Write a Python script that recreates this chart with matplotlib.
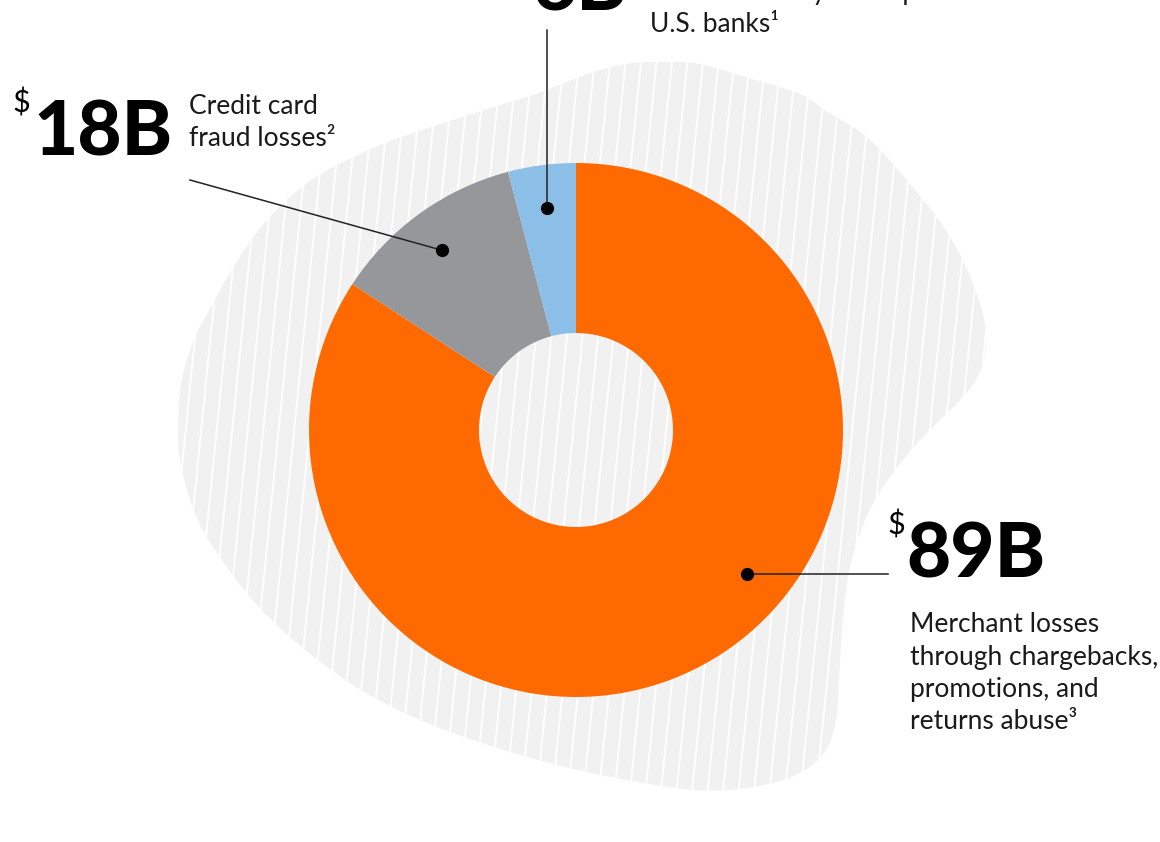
import numpy as np
import matplotlib
matplotlib.use("Agg")
import matplotlib.pyplot as plt
from matplotlib.patches import Polygon

plt.rcParams['font.family'] = ['Lato', 'DejaVu Sans']

# data (wedge shares from the drawn angles)
categories = ['Merchant losses', 'Credit card fraud', 'Bank fraud']
shares = [84.2, 11.7, 4.1]
amounts = ['89B', '18B', '6B']
descriptions = ['Merchant losses\nthrough chargebacks,\npromotions, and\nreturns abuse\u00b3',
                'Credit card\nfraud losses\u00b2',
                'Check fraud by the top\nU.S. banks\u00b9']
colors = ['#FF6A00', '#96979A', '#8CBFE8']

W, H = 1160, 842


def py(y):
    # pixel row (from top) -> data y
    return H - y


def smooth_closed(pts, n=10):
    P = np.asarray(pts, float)
    out = []
    N = len(P)
    t = np.linspace(0, 1, n, endpoint=False)[:, None]
    for i in range(N):
        p0, p1, p2, p3 = P[i - 1], P[i], P[(i + 1) % N], P[(i + 2) % N]
        out.append(0.5 * (2 * p1 + (-p0 + p2) * t + (2 * p0 - 5 * p1 + 4 * p2 - p3) * t ** 2
                          + (-p0 + 3 * p1 - 3 * p2 + p3) * t ** 3))
    return np.vstack(out)


# background blob outline (pixel coords)
blob = [(178, 430), (181, 385), (190, 350), (202, 323), (249, 243), (302, 187), (371, 149),
        (450, 121), (500, 105), (533, 95), (567, 82), (600, 70), (633, 63), (667, 62),
        (700, 64), (752, 79), (800, 94), (828, 112), (869, 139), (910, 184), (945, 229),
        (969, 274), (983, 315), (986, 346), (979, 374), (962, 398), (931, 429), (903, 460),
        (876, 498), (859, 536), (848, 577), (842, 630), (839, 680), (836, 720), (826, 750),
        (805, 770), (773, 783), (728, 790), (683, 789), (616, 778), (549, 763), (482, 743),
        (420, 720), (366, 693), (322, 663), (282, 630), (250, 597), (224, 563), (201, 527),
        (188, 493), (180, 460)]

fig = plt.figure(figsize=(11.6, 8.42), dpi=100)
ax = fig.add_axes([0, 0, 1, 1])

bp = smooth_closed(blob)
bp[:, 1] = H - bp[:, 1]
patch = Polygon(bp, closed=True, facecolor='#F2F1F2', edgecolor='none', zorder=0)
ax.add_patch(patch)
for x0 in np.arange(-150, 1200, 15.5):
    ln, = ax.plot([x0, x0 + 0.1 * H], [0, H], color='white', lw=1.4, zorder=1)
    ln.set_clip_path(patch)

# donut
cx, cy, R = 576, 430, 267
wedges, _ = ax.pie(shares, colors=colors, startangle=90, counterclock=False,
                   radius=R, center=(cx, py(cy)),
                   wedgeprops=dict(width=170, linewidth=0))
for w in wedges:
    w.set_zorder(2)

# leader dots: position along each wedge
anchor_frac = [0.571, 0.52, 0.5]
anchor_r = 224
dots = []
for w, f in zip(wedges, anchor_frac):
    a = np.deg2rad(w.theta1 + f * (w.theta2 - w.theta1))
    dots.append((cx + anchor_r * np.cos(a), py(cy) + anchor_r * np.sin(a)))

# leader lines
ends = [(888, py(573)), (190, py(180)), (None, py(30))]
for i, (d, e) in enumerate(zip(dots, ends)):
    ex = d[0] if e[0] is None else e[0]
    ey = d[1] if i == 0 else e[1]
    ax.plot([d[0], ex], [d[1], ey], color='#222222', lw=1.1, zorder=3)
    ax.plot(d[0], d[1], 'o', color='black', ms=8.5, zorder=4)

num_kw = dict(fontsize=55, fontweight='black', color='black', va='baseline', ha='left')
dol_kw = dict(fontsize=22, fontweight='normal', color='black', va='top', ha='left')
txt_kw = dict(fontsize=19, fontweight='normal', color='#1a1a1a', ha='left', va='baseline',
              linespacing=1.36)

# $89B
ax.text(887, py(510), '$', **dol_kw)
ax.text(906, py(578), amounts[0], **num_kw)
ax.text(910, py(729), descriptions[0], **txt_kw)

# $18B
ax.text(12, py(88), '$', **dol_kw)
ax.text(33, py(155), amounts[1], **num_kw)
ax.text(189, py(146), descriptions[1], **txt_kw)

# top label (cut off by the frame)
ax.text(508, py(-55), '$', **dol_kw)
ax.text(532, py(10), amounts[2], **num_kw)
ax.text(650, py(32), descriptions[2], **txt_kw)

ax.set_xlim(0, W)
ax.set_ylim(0, H)
ax.set_aspect('auto')
ax.axis('off')

fig.savefig('out.png', dpi=100)
